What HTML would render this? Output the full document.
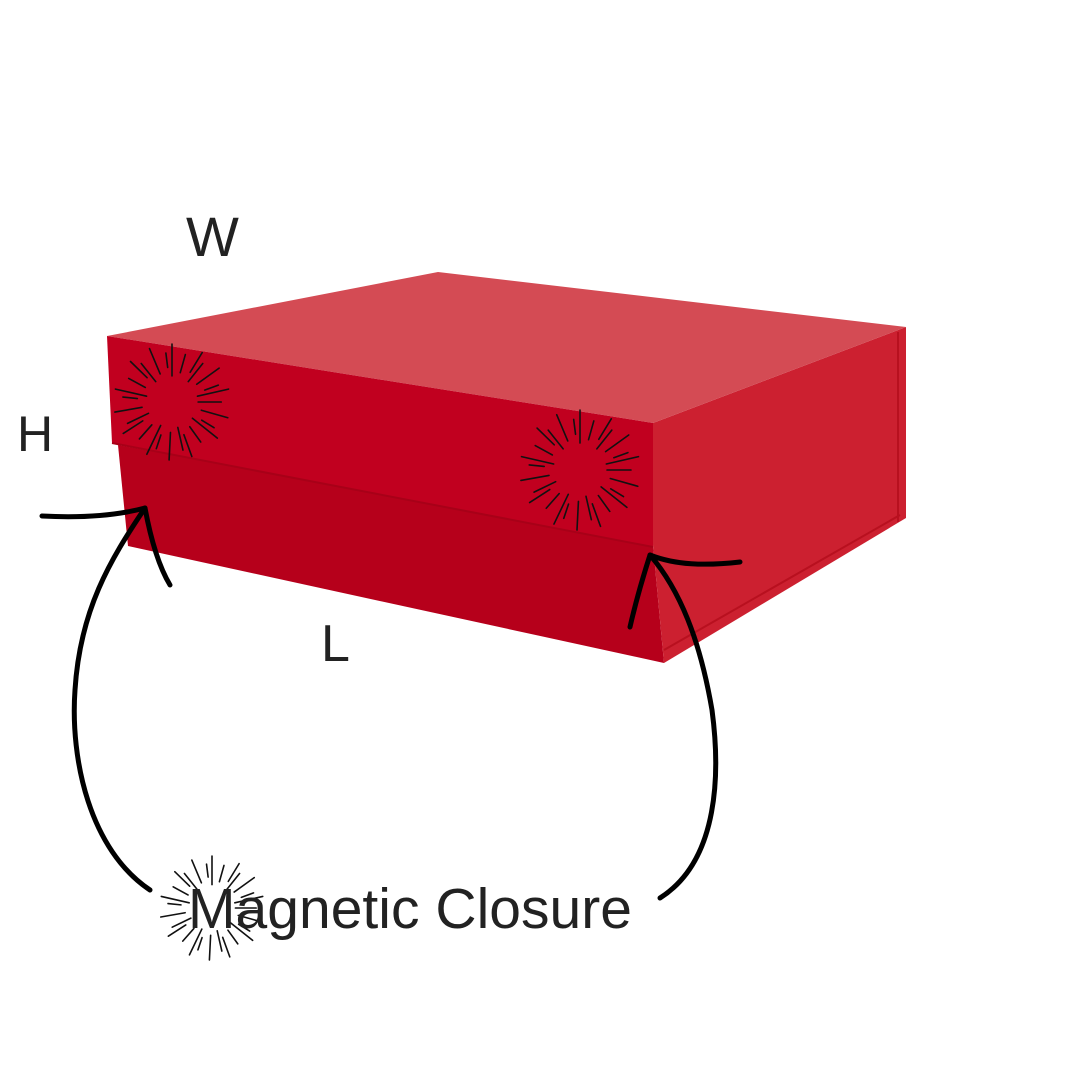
<!DOCTYPE html>
<html><head><meta charset="utf-8"><style>html,body{margin:0;padding:0;background:#fff}svg{display:block}</style></head>
<body>
<svg id="s" width="1080" height="1080" viewBox="0 0 1080 1080" xmlns="http://www.w3.org/2000/svg">
<rect width="1080" height="1080" fill="#fff"/>
<polygon points="118,445 653,545 664,663 128,546" fill="#b6001b"/>
<polygon points="653,423 906,327 906,518 664,663 653,545" fill="#cc2030"/>
<line x1="898" y1="332" x2="898" y2="522" stroke="#b8101f" stroke-width="2"/>
<line x1="664" y1="650" x2="900" y2="515" stroke="#b8101f" stroke-width="2"/>
<polygon points="107,336 438,272 906,327 653,423" fill="#d44b54"/>
<polygon points="107,336 653,423 653,547 112,443" fill="#c1001f"/>
<line x1="112" y1="443" x2="653" y2="547" stroke="#a80018" stroke-width="2"/>
<g id="bursts" stroke="#111" stroke-width="1.6" stroke-linecap="round"></g>
<g fill="none" stroke="#000" stroke-width="5" stroke-linecap="round" stroke-linejoin="round">
<path d="M150,890 C90,850 70,760 75,690 C80,610 110,560 145,508"/>
<path d="M42,516 C80,518 115,516 145,508 C150,535 158,565 170,585"/>
<path d="M660,898 C720,860 720,770 712,710 C700,640 680,590 650,555"/>
<path d="M740,562 C705,566 675,565 650,555 C642,580 635,605 630,627"/>
</g>
<g font-family="Liberation Sans, sans-serif" fill="#222">
<text x="186" y="256" font-size="56">W</text>
<text x="17" y="451" font-size="50">H</text>
<text x="321" y="661" font-size="52">L</text>
<text x="188" y="928" font-size="57" textLength="444" lengthAdjust="spacing">Magnetic Closure</text>
</g>
</svg>
<script>
var g=document.getElementById('bursts');
function burst(cx,cy,r){var n=28;for(var i=0;i<n;i++){var a=i/n*Math.PI*2+0.05*(i%3);var r1=r*(0.45+0.15*((i*7)%3)/2);var r2=r*(0.85+0.15*((i*5)%2));var l=document.createElementNS('http://www.w3.org/2000/svg','line');l.setAttribute('x1',cx+Math.cos(a)*r1);l.setAttribute('y1',cy+Math.sin(a)*r1);l.setAttribute('x2',cx+Math.cos(a)*r2);l.setAttribute('y2',cy+Math.sin(a)*r2);g.appendChild(l);}}
burst(172,402,58);burst(580,470,60);burst(212,908,52);
</script>
</body></html>
